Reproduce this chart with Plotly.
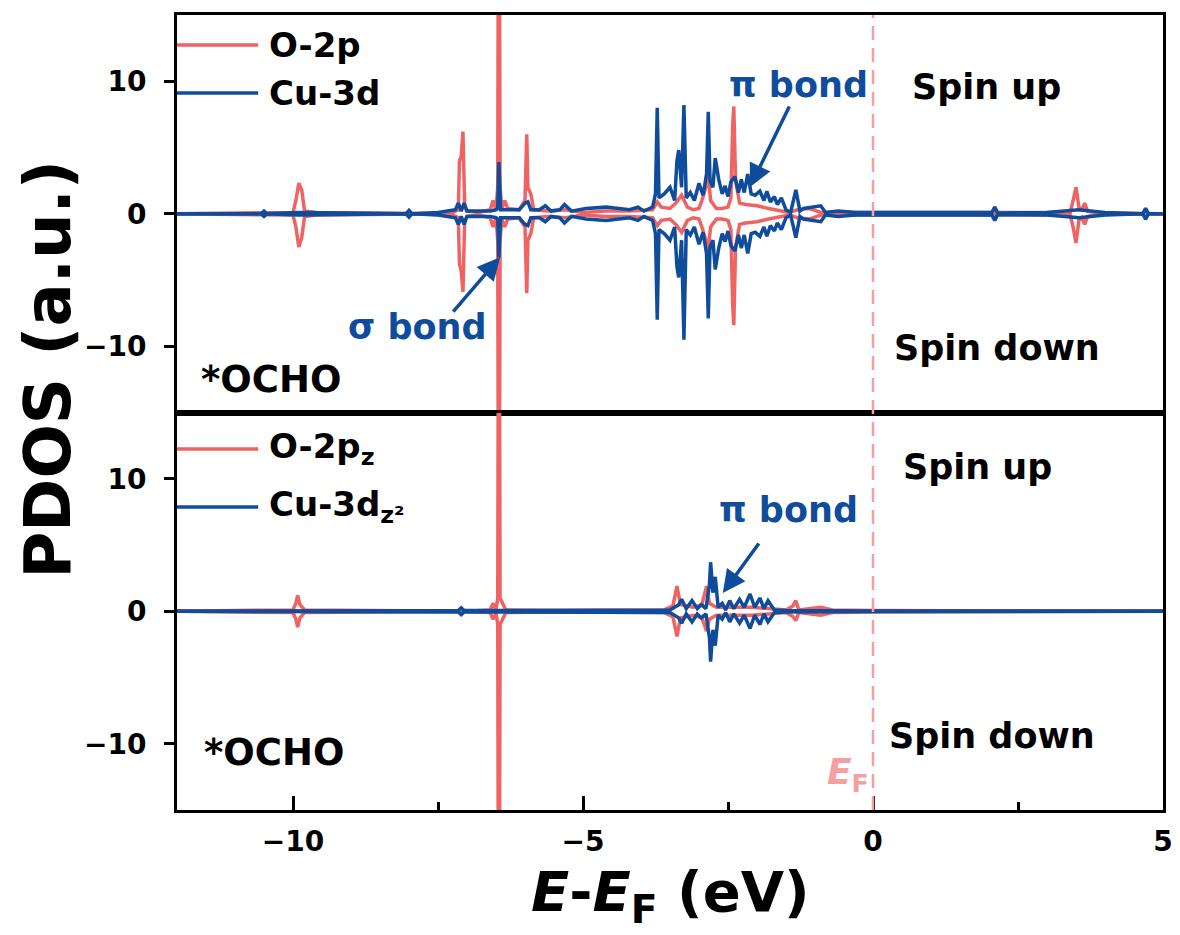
import plotly.graph_objects as go
from plotly.subplots import make_subplots

# ---------------- data ----------------
# Top panel: O-2p
E_o2p = [
    -12.0, -10.3, -10.0, -9.95, -9.9, -9.85, -9.8, -9.6, -7.3, -7.15,
    -7.13, -7.1, -7.07, -7.04, -7.0, -6.8, -6.6, -6.55, -6.5, -6.47,
    -6.45, -6.43, -6.4, -6.35, -6.3, -6.1, -6.0, -5.97, -5.95, -5.9,
    -5.85, -5.6, -5.3, -5.0, -4.6, -4.2, -3.8, -3.72, -3.65, -3.5,
    -3.4, -3.3, -3.2, -3.1, -3.0, -2.95, -2.88, -2.85, -2.8, -2.7,
    -2.6, -2.5, -2.45, -2.42, -2.40, -2.37, -2.3, -2.2, -2.0, -1.8,
    -1.6, -1.45, -1.3, -1.1, -0.9, -0.5, 0.0, 2.0, 3.4, 3.45,
    3.5, 3.55, 3.6, 3.65, 3.7, 3.9, 5.0]
o2p_up = [
    0, 0.05, 0.1, 1.0, 2.3, 1.8, 0.2, 0.1, 0.0, 0.3,
    4.0, 4.3, 6.2, 0.5, 0.2, 0.1, 0.3, 1.0, 0.3, 2.0,
    40, 2.0, 0.4, 1.0, 0.4, 0.3, 1.0, 6.0, 2.0, 1.5,
    0.3, 0.2, 0.3, 0.1, 0.2, 0.2, 0.3, 0.9, 0.5, 0.4,
    0.8, 1.4, 0.5, 0.3, 0.4, 1.0, 2.0, 3.5, 1.0, 0.4,
    0.4, 0.5, 1.2, 6.5, 8.1, 2.5, 0.8, 0.7, 0.6, 0.4,
    0.2, 0.1, 0.3, 0.4, 0.1, 0.1, 0.05, 0.05, 0.1, 1.0,
    2.0, 0.5, 0.3, 0.8, 0.2, 0.05, 0]
o2p_down = [
    0, -0.05, -0.1, -1.0, -2.5, -1.8, -0.2, -0.1, 0.0, -0.3,
    -3.8, -4.3, -5.9, -0.5, -0.2, -0.1, -0.3, -1.0, -0.3, -2.0,
    -40, -2.0, -0.4, -1.0, -0.4, -0.3, -1.0, -6.0, -2.0, -1.5,
    -0.3, -0.2, -0.3, -0.1, -0.2, -0.2, -0.3, -0.9, -0.5, -0.4,
    -0.8, -1.4, -0.5, -0.3, -0.4, -1.0, -2.0, -3.0, -1.0, -0.4,
    -0.4, -0.5, -1.2, -6.8, -8.4, -2.5, -0.8, -0.7, -0.6, -0.4,
    -0.2, -0.1, -0.3, -0.4, -0.1, -0.1, -0.05, -0.05, -0.1, -1.0,
    -2.2, -0.5, -0.3, -0.8, -0.2, -0.05, 0]

# Top panel: Cu-3d
E_cu3d = [
    -12.0, -10.55, -10.5, -10.45, -9.9, -8.05, -8.0, -7.95, -7.5, -7.2,
    -7.15, -7.1, -7.05, -7.0, -6.6, -6.5, -6.47, -6.45, -6.42, -6.35,
    -6.1, -6.0, -5.95, -5.9, -5.75, -5.65, -5.55, -5.4, -5.32, -5.2,
    -4.95, -4.6, -4.4, -4.2, -4.05, -3.95, -3.8, -3.75, -3.72, -3.69,
    -3.6, -3.5, -3.42, -3.38, -3.35, -3.3, -3.26, -3.22, -3.15, -3.08,
    -3.0, -2.93, -2.87, -2.84, -2.81, -2.76, -2.72, -2.66, -2.6, -2.55,
    -2.5, -2.45, -2.38, -2.32, -2.27, -2.22, -2.16, -2.1, -2.03, -1.95,
    -1.88, -1.83, -1.77, -1.7, -1.65, -1.58, -1.5, -1.42, -1.33, -1.26,
    -1.2, -1.05, -0.9, -0.82, -0.6, -0.3, 0.0, 1.0, 2.05, 2.1,
    2.15, 3.0, 3.3, 3.55, 4.0, 4.65, 4.7, 4.75, 5.0]
cu3d_up = [
    0, 0.0, 0.2, 0.0, 0.1, 0.0, 0.25, 0.0, 0.1, 0.3,
    0.8, 0.2, 0.8, 0.2, 0.2, 0.3, 0.4, 3.9, 0.3, 0.3,
    0.3, 0.8, 0.9, 0.3, 0.3, 0.6, 0.2, 0.3, 0.7, 0.2,
    0.4, 0.5, 0.4, 0.3, 0.5, 0.2, 0.5, 1.5, 8.0, 1.2,
    1.5, 2.0, 1.0, 4.0, 4.8, 2.0, 8.2, 1.2, 1.6, 1.0,
    2.3, 1.4, 3.0, 7.7, 2.5, 2.0, 4.2, 2.6, 1.5, 2.1,
    1.3, 2.4, 2.8, 1.6, 2.6, 1.6, 3.0, 1.5, 1.4, 1.7,
    1.0, 1.7, 0.9, 1.3, 0.7, 1.2, 0.3, 0.1, 1.8, 0.2,
    0.4, 0.5, 0.6, 0.1, 0.2, 0.1, 0.1, 0.1, 0.1, 0.5,
    0.05, 0.1, 0.2, 0.3, 0.1, 0.0, 0.4, 0.0, 0]
cu3d_down = [
    0, 0.0, -0.2, 0.0, -0.1, 0.0, -0.25, 0.0, -0.1, -0.3,
    -0.8, -0.2, -0.8, -0.2, -0.2, -0.3, -0.4, -3.3, -0.3, -0.3,
    -0.3, -0.8, -0.9, -0.3, -0.3, -0.6, -0.2, -0.3, -0.7, -0.2,
    -0.4, -0.5, -0.4, -0.3, -0.5, -0.2, -0.5, -1.5, -8.0, -1.2,
    -1.5, -2.0, -1.0, -4.0, -4.8, -2.0, -9.5, -1.2, -1.6, -1.0,
    -2.3, -1.4, -3.0, -7.9, -2.5, -2.0, -4.2, -2.6, -1.5, -2.1,
    -1.3, -2.4, -2.8, -1.6, -2.6, -1.6, -3.0, -1.5, -1.4, -1.7,
    -1.0, -1.7, -0.9, -1.3, -0.7, -1.2, -0.3, -0.1, -1.8, -0.2,
    -0.4, -0.5, -0.6, -0.1, -0.2, -0.1, -0.1, -0.1, -0.1, -0.5,
    -0.05, -0.1, -0.2, -0.3, -0.1, 0.0, -0.4, 0.0, 0]

# Bottom panel: O-2pz
E_o2pz = [
    -12.0, -10.1, -10.0, -9.95, -9.92, -9.88, -9.8, -7.0, -6.6, -6.55,
    -6.5, -6.47, -6.45, -6.43, -6.38, -6.33, -5.5, -4.0, -3.6, -3.45,
    -3.38, -3.32, -3.1, -2.95, -2.87, -2.82, -2.7, -2.4, -2.1, -1.8,
    -1.5, -1.38, -1.33, -1.28, -1.1, -0.9, -0.7, 0.0, 5.0]
o2pz_up = [
    0, 0.05, 0.1, 0.6, 1.2, 0.5, 0.1, 0.0, 0.1, 0.6,
    0.1, 1.0, 40, 1.0, 0.6, 0.1, 0.05, 0.05, 0.1, 0.4,
    1.9, 0.5, 0.3, 0.5, 1.9, 0.6, 0.3, 0.3, 0.3, 0.2,
    0.1, 0.4, 0.8, 0.1, 0.2, 0.3, 0.1, 0.05, 0]
o2pz_down = [
    0, -0.05, -0.1, -0.6, -1.2, -0.5, -0.1, 0.0, -0.1, -0.6,
    -0.1, -1.0, -40, -1.0, -0.6, -0.1, -0.05, -0.05, -0.1, -0.4,
    -1.9, -0.5, -0.3, -0.5, -1.5, -0.6, -0.3, -0.3, -0.3, -0.2,
    -0.1, -0.4, -0.7, -0.1, -0.2, -0.3, -0.1, -0.05, 0]

# Bottom panel: Cu-3dz2
E_cu3dz2 = [
    -12.0, -7.15, -7.1, -7.05, -6.5, -4.0, -3.5, -3.35, -3.3, -3.22,
    -3.12, -3.03, -2.96, -2.88, -2.82, -2.80, -2.76, -2.72, -2.67, -2.6,
    -2.54, -2.47, -2.4, -2.3, -2.22, -2.12, -2.04, -1.95, -1.88, -1.81,
    -1.7, -1.5, 0.0, 5.0]
cu3dz2_up = [
    0, 0.05, 0.25, 0.05, 0.05, 0.05, 0.1, 0.5, 0.9, 0.2,
    0.8, 0.2, 0.5, 0.2, 2.0, 3.7, 1.4, 2.6, 0.3, 0.6,
    0.1, 0.8, 0.2, 0.9, 0.3, 1.3, 0.3, 1.0, 0.2, 0.8,
    0.1, 0.05, 0.02, 0]
cu3dz2_down = [
    0, -0.05, -0.25, -0.05, -0.05, -0.05, -0.1, -0.5, -0.9, -0.2,
    -0.8, -0.2, -0.5, -0.2, -2.0, -3.8, -1.4, -2.6, -0.3, -0.6,
    -0.1, -0.8, -0.2, -0.9, -0.3, -1.3, -0.3, -1.0, -0.2, -0.8,
    -0.1, -0.05, -0.02, 0]

x_ticks = [-10, -5, 0, 5]
y_ticks = [-10, 0, 10]

# ---------------- style ----------------
RED = "#EF6363"
BLUE = "#0F4C9C"
PINK = "#F4A0A0"
FONT = "DejaVu Sans"

fig = make_subplots(rows=2, cols=1, shared_xaxes=True, vertical_spacing=0)

series = [
    (1, E_o2p, o2p_up, o2p_down, RED),
    (1, E_cu3d, cu3d_up, cu3d_down, BLUE),
    (2, E_o2pz, o2pz_up, o2pz_down, RED),
    (2, E_cu3dz2, cu3dz2_up, cu3dz2_down, BLUE),
]
for row, E, up, dn, col in series:
    for vals in (up, dn):
        fig.add_trace(go.Scatter(x=E, y=vals, mode="lines",
                                 line=dict(color=col, width=3.5),
                                 showlegend=False, hoverinfo="skip"),
                      row=row, col=1)

axis_common = dict(showline=True, linecolor="black", linewidth=3, mirror=True,
                   showgrid=False, zeroline=False, automargin=False)
tickfont = dict(family=FONT, size=28, color="black", weight="bold")

fig.update_xaxes(range=[-12, 5], **axis_common)
fig.update_xaxes(showticklabels=False, ticks="", row=1, col=1)
fig.update_xaxes(tickvals=x_ticks, ticks="inside", ticklen=14, tickwidth=2.5,
                 tickcolor="black", tickfont=tickfont, ticklabelstandoff=4,
                 minor=dict(ticks="inside", ticklen=8, tickwidth=2.5,
                            tickcolor="black", dtick=2.5, tick0=0),
                 row=2, col=1)
fig.update_yaxes(range=[-15, 15], tickvals=y_ticks, ticks="outside",
                 ticklen=10, tickwidth=2.5, tickcolor="black",
                 tickfont=tickfont, ticklabelstandoff=12, **axis_common)

# Fermi level dashed line
fig.add_shape(type="line", xref="x", yref="paper", x0=0, x1=0, y0=0, y1=1,
              line=dict(color=PINK, width=2.5, dash="14px,8px"))

# Legends (drawn manually)
legend_items = [
    ("y", 12.74, RED, "O-2p"),
    ("y", 9.11, BLUE, "Cu-3d"),
    ("y2", 12.25, RED, "O-2p<sub>z</sub>"),
    ("y2", 7.87, BLUE, "Cu-3d<sub>z²</sub>"),
]
for yref, yv, col, label in legend_items:
    fig.add_shape(type="line", xref="x", yref=yref, x0=-12, x1=-10.6,
                  y0=yv, y1=yv, line=dict(color=col, width=3.5))
    fig.add_annotation(x=-10.45, y=yv, xref="x", yref=yref, text=label,
                       showarrow=False, xanchor="left", yanchor="middle",
                       font=dict(family=FONT, size=34, color="black", weight="bold"))

def txt(x, y, yref, text, color="black", size=35):
    fig.add_annotation(x=x, y=y, xref="x", yref=yref, text=text, showarrow=False,
                       xanchor="center", yanchor="middle",
                       font=dict(family=FONT, size=size, color=color, weight="bold"))

txt(1.96, 9.57, "y", "Spin up")
txt(2.14, -10.13, "y", "Spin down")
txt(1.81, 10.89, "y2", "Spin up")
txt(2.05, -9.4, "y2", "Spin down")
txt(-10.38, -12.5, "y", "*OCHO", size=37)
txt(-10.33, -10.63, "y2", "*OCHO", size=37)
txt(-1.29, 9.72, "y", "π bond", BLUE)
txt(-7.85, -8.55, "y", "σ bond", BLUE)
txt(-1.45, 7.64, "y2", "π bond", BLUE)
txt(-0.43, -12.34, "y2", "<i>E</i><sub>F</sub>", PINK, 36)

# Arrows
arrows = [
    ("x", "y", -2.12, 2.02, -1.43, 8.2),
    ("x", "y", -6.43, -3.28, -7.26, -7.5),
    ("x", "y2", -2.59, 1.38, -1.95, 5.23),
]
for xr, yr, hx, hy, tx, ty in arrows:
    fig.add_annotation(x=hx, y=hy, ax=tx, ay=ty, xref=xr, yref=yr,
                       axref=xr, ayref=yr, text="", showarrow=True,
                       arrowhead=2, arrowsize=1.3, arrowwidth=3.5,
                       arrowcolor=BLUE)

# Axis titles
fig.add_annotation(x=-0.131, y=0.555, xref="paper", yref="paper",
                   text="PDOS (a.u.)", textangle=-90, showarrow=False,
                   xanchor="center", yanchor="middle",
                   font=dict(family=FONT, size=64, color="black", weight="bold"))
fig.add_annotation(x=0.5, y=-0.107, xref="paper", yref="paper",
                   text="<i>E</i>-<i>E</i><sub>F</sub> (eV)", showarrow=False,
                   xanchor="center", yanchor="middle",
                   font=dict(family=FONT, size=56, color="black", weight="bold"))

fig.update_layout(width=1180, height=935,
                  margin=dict(l=177, r=17, t=15, b=125),
                  paper_bgcolor="white", plot_bgcolor="white",
                  showlegend=False)

fig.write_html("out.html", config={"displayModeBar": False},
               post_script="document.body.style.margin='0px';")
